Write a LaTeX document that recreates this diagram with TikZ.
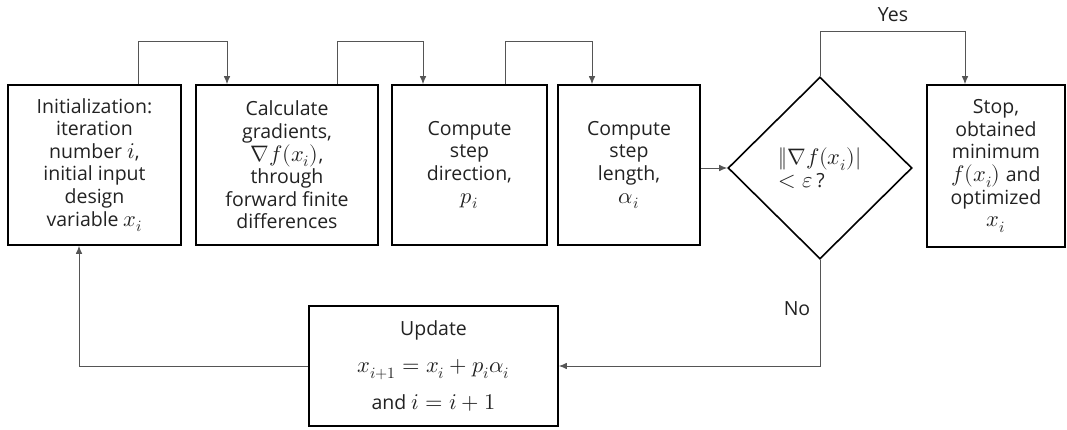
\documentclass[tikz,border=0pt]{standalone}
\usepackage{fontspec}
\usepackage{unicode-math}
\setmainfont{Open Sans}
\setmathfont{Latin Modern Math}[Scale=1.15]
\usetikzlibrary{shapes.geometric}
\usetikzlibrary{arrows.meta}
\definecolor{ink}{HTML}{222222}
\definecolor{wire}{HTML}{555555}

\begin{document}
\begin{tikzpicture}
[x=1pt,y=-1pt,%
  every node/.style={shape=rectangle,draw,line width=1.6pt,align=center,text=ink,inner sep=2pt,
    font=\fontsize{19.5}{22.6}\selectfont},%
  link/.style={-{Latex[length=8pt,width=6.5pt]},line width=0.9pt,draw=wire}]
\useasboundingbox (0,0) rectangle (1067,430);
\node[minimum width=173pt,minimum height=160pt] (init) at (94.5,165)
  {Initialization:\\ iteration\\ number $i$,\\ initial input\\ design\\ variable $x_i$};
\node[minimum width=182pt,minimum height=160pt] (grad) at (287,165)
  {Calculate\\ gradients,\\ $\nabla f(x_i)$,\\ through\\ forward finite\\ differences};
\node[minimum width=155pt,minimum height=160pt] (dir) at (469.5,165)
  {Compute\\ step\\ direction,\\ $p_i$};
\node[minimum width=142pt,minimum height=160pt] (len) at (629,165)
  {Compute\\ step\\ length,\\ $\alpha_i$};
\node[shape=diamond,minimum width=184pt,minimum height=182pt,inner sep=0pt,align=left] (dec) at (820,168)
  {$\|\nabla f(x_i)|$\\ $<\varepsilon\,$?};
\node[minimum width=138pt,minimum height=162pt] (stop) at (996,166)
  {Stop,\\ obtained\\ minimum\\ $f(x_i)$ and\\ optimized\\ $x_i$};
\node[minimum width=249pt,minimum height=120pt] (upd) at (433.5,366)
  {Update\\[14pt] $x_{i+1}=x_i+p_i\alpha_i$\\[14pt] and $i=i+1$};
\node[draw=none] (yes) at (893,15) {Yes};
\node[draw=none] (no) at (797,309) {No};
% connectors
\draw[link] ([xshift=43.5pt]init.north) -- ++(0,-43) -| ([xshift=-60pt]grad.north);
\draw[link] ([xshift=50pt]grad.north) -- ++(0,-43) -| ([xshift=-46.5pt]dir.north);
\draw[link] ([xshift=35.5pt]dir.north) -- ++(0,-43) -| ([xshift=-37pt]len.north);
\draw[link] (len.east |- dec.west) -- (dec.west);
\draw[link] (dec.north) -- ++(0,-45) -| ([xshift=-31pt]stop.north);
\draw[link] (dec.south) |- (upd.east);
\draw[link] (upd.west) -| ([xshift=-15.5pt]init.south);
\end{tikzpicture}
\end{document}
